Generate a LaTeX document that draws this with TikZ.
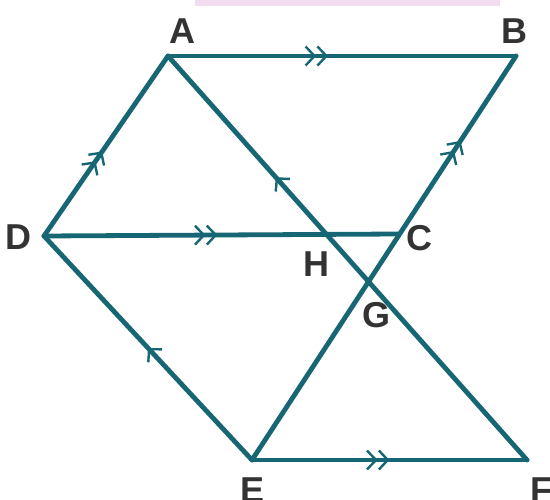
\documentclass[tikz,border=0pt]{standalone}
\usepackage{fontspec}
\setmainfont{Liberation Sans}
\usetikzlibrary{decorations.markings,arrows.meta}
\definecolor{segcol}{HTML}{176674}
\definecolor{labcol}{HTML}{333333}
\definecolor{bandcol}{HTML}{F2DDF0}
\tikzset{
  seg/.style={draw=segcol,line width=4.8pt,line cap=round,line join=round},
  onetick/.style={postaction={decorate,decoration={markings,
     mark=at position #1 with {\arrow[segcol,line width=2.4pt]{Straight Barb[length=9pt,width=19pt]}}}}},
  twotick/.style={postaction={decorate,decoration={markings,
     mark=at position #1 with {\arrow[segcol,line width=2.4pt]{Straight Barb[length=9pt,width=19pt] Straight Barb[length=9pt,width=19pt]}}}}},
  lab/.style={font=\bfseries\fontsize{36}{36}\selectfont,text=labcol,inner sep=0pt}
}
\begin{document}
\begin{tikzpicture}[x=1pt,y=-1pt]
\useasboundingbox (0,0) rectangle (550,500);
\fill[bandcol] (195,0) rectangle (500,6);
\coordinate (A) at (168,56);
\coordinate (B) at (516,56);
\coordinate (D) at (44,236);
\coordinate (E) at (252,460);
\coordinate (F) at (527,460);
\coordinate (H) at (328,236);
\coordinate (C) at (398,234);
\coordinate (G) at (369,278);
\path[seg,twotick=0.46] (A) -- (B);
\path[seg,twotick=0.47] (D) -- (A);
\path[seg,onetick=0.5] (E) -- (D);
\path[seg,twotick=0.49] (D) -- (C);
\path[seg,twotick=0.5] (E) -- (F);
\path[seg,twotick=0.79] (E) -- (B);
\path[seg,onetick=0.70] (F) -- (A);
\node[lab] (lA) at (182,31) {A};
\node[lab] (lB) at (514,31) {B};
\node[lab] (lD) at (18,237) {D};
\node[lab] (lC) at (419,238) {C};
\node[lab] (lH) at (316,264) {H};
\node[lab] (lG) at (376,315) {G};
\node[lab] (lE) at (253,490) {E};
\node[lab] (lF) at (541,490) {F};
\end{tikzpicture}
\end{document}
